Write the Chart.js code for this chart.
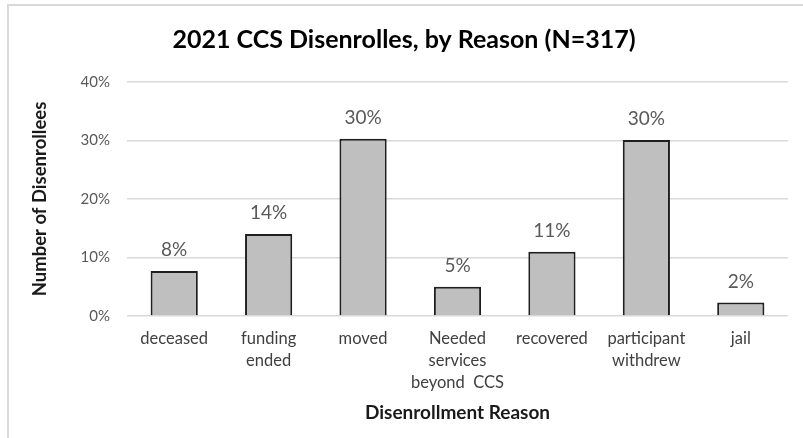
<!DOCTYPE html>
<html>
<head>
<meta charset="utf-8">
<script src="https://cdn.jsdelivr.net/npm/chart.js@4/dist/chart.umd.min.js"></script>
<style>
  html, body { margin: 0; padding: 0; background: #fff; }
  #wrap { position: relative; width: 803px; height: 438px; }
  #frame { position: absolute; left: 7px; top: 4px; right: 0; bottom: 0;
           border-top: 2px solid #d9d9d9; border-left: 2px solid #d9d9d9; }
  canvas { position: absolute; left: 0; top: 0; }
</style>
</head>
<body>
<div id="wrap">
  <div id="frame"></div>
  <canvas id="ccsChart" width="803" height="438"></canvas>
</div>
<script>
// data
const reasons = [
    'deceased',
    ['funding', 'ended'],
    'moved',
    ['Needed', 'services', 'beyond  CCS'],
    'recovered',
    ['participant', 'withdrew'],
    'jail'
];
const sharePct = [7.7, 14.0, 30.3, 5.0, 11.0, 30.1, 2.3];
const shareLabels = ['8%', '14%', '30%', '5%', '11%', '30%', '2%'];
const yTicks = [0, 10, 20, 30, 40];

const FONT = 'Lato, "Open Sans", sans-serif';

// simple value labels above each bar
const barLabels = {
    id: 'barLabels',
    afterDatasetsDraw(chart) {
        const ctx = chart.ctx;
        const meta = chart.getDatasetMeta(0);
        ctx.save();
        ctx.font = '19px ' + FONT;
        ctx.fillStyle = '#595959';
        ctx.textAlign = 'center';
        ctx.textBaseline = 'middle';
        meta.data.forEach((bar, i) => {
            ctx.fillText(shareLabels[i], bar.x, bar.y - 21);
        });
        ctx.restore();
    }
};

const ctx = document.getElementById('ccsChart').getContext('2d');

new Chart(ctx, {
    type: 'bar',
    data: {
        labels: reasons,
        datasets: [{
            data: sharePct,
            backgroundColor: '#bfbfbf',
            borderColor: '#1f1f1f',
            borderWidth: 2,
            barPercentage: 0.5,
            categoryPercentage: 1.0
        }]
    },
    options: {
        responsive: false,
        animation: false,
        layout: { padding: { left: 20, right: 15, top: 25, bottom: 14 } },
        plugins: {
            legend: { display: false },
            tooltip: { enabled: false },
            title: {
                display: true,
                text: '2021 CCS Disenrolles, by Reason (N=317)',
                color: '#000',
                font: { family: FONT, size: 25, weight: 'bold' },
                padding: { top: 0, bottom: 27 }
            }
        },
        scales: {
            x: {
                afterFit: function (scale) { scale.height = 108; },
                grid: { display: false, drawTicks: false },
                border: { display: false },
                ticks: {
                    color: '#404040',
                    padding: 12,
                    maxRotation: 0,
                    autoSkip: false,
                    font: { family: FONT, size: 16.5, lineHeight: 1.33 }
                },
                title: {
                    display: true,
                    text: 'Disenrollment Reason',
                    color: '#1a1a1a',
                    font: { family: FONT, size: 19, weight: 'bold' },
                    padding: { top: 0, bottom: 0 }
                }
            },
            y: {
                min: 0,
                max: 40,
                afterBuildTicks: function (scale) {
                    scale.ticks = yTicks.map(v => ({ value: v }));
                },
                afterFit: function (scale) { scale.width = 107; },
                grid: { color: '#d9d9d9', lineWidth: 1.5, drawTicks: false },
                border: { display: false },
                ticks: {
                    color: '#595959',
                    padding: 17,
                    font: { family: FONT, size: 15 },
                    callback: function (value) { return value + '%'; }
                },
                title: {
                    display: true,
                    text: 'Number of Disenrollees',
                    color: '#1a1a1a',
                    font: { family: FONT, size: 18.5, weight: 'bold' },
                    padding: { top: 9, bottom: 0 }
                }
            }
        }
    },
    plugins: [barLabels]
});
</script>
</body>
</html>
